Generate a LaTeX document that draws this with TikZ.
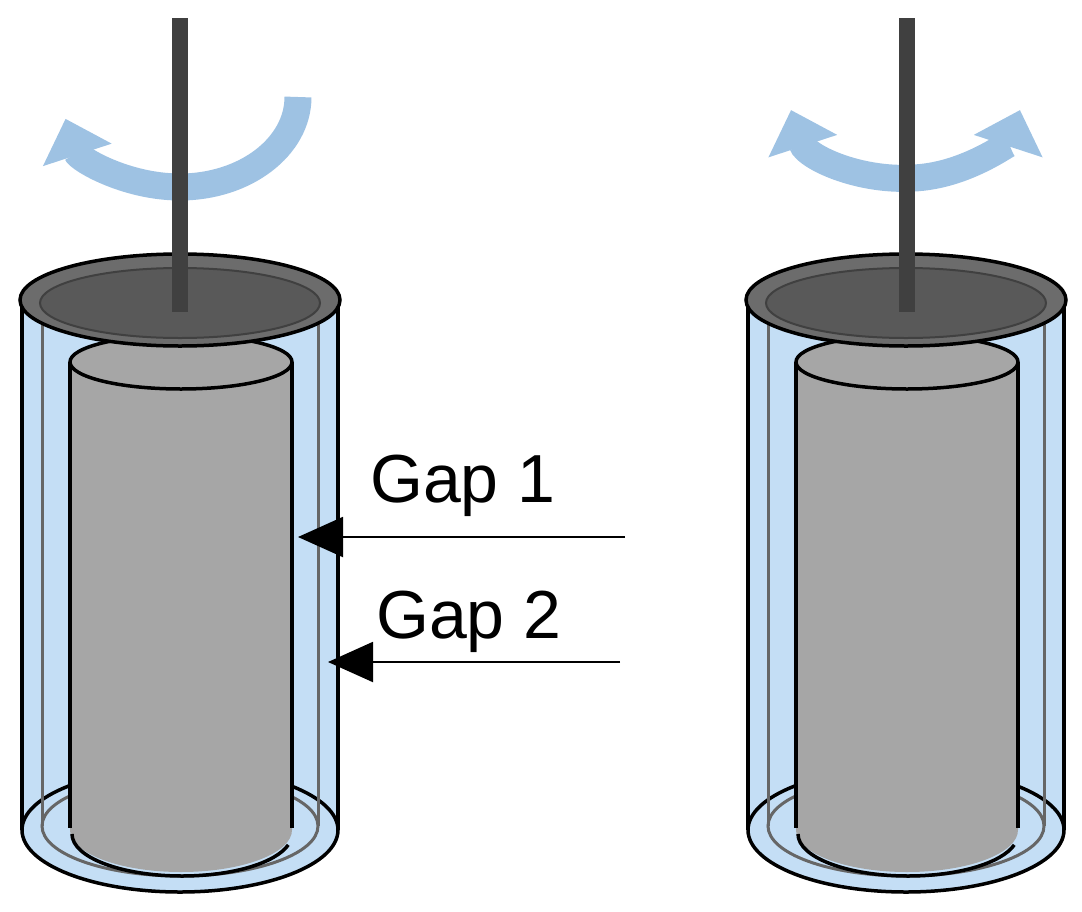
\documentclass[tikz,border=0pt]{standalone}
\usepackage{fontspec}
\setmainfont{Liberation Sans}
\usetikzlibrary{arrows.meta}
\definecolor{liq}{rgb}{0.77,0.87,0.96}
\definecolor{rot}{rgb}{0.62,0.76,0.89}
\tikzset{
  wall/.style={black,line width=3.5},
  inwall/.style={gray!80!black,line width=3},
  rotarrow/.style={rot,line width=27,-{Triangle[width=70,length=38]}},
  rotarrow2/.style={rot,line width=27,{Triangle[width=70,length=38]}-{Triangle[width=70,length=38]}},
  gaparrow/.style={black,line width=2,-{Triangle[width=40,length=45]}},
  lbl/.style={font=\fontsize{68}{72}\selectfont,inner sep=0}
}
\newcommand\drawcell{%
  \fill[liq] (22,300) -- (22,830) arc[start angle=180,end angle=0,x radius=158,y radius=62] -- (338,300) -- cycle;
  \draw[wall] (180,830) ellipse[x radius=158,y radius=62];
  \draw[inwall] (180,826) ellipse[x radius=138,y radius=50];
  \draw[inwall] (42,300) -- (42,826);
  \draw[inwall] (318,300) -- (318,826);
  % bob
  \fill[gray!70] (70,362) -- (70,830) arc[start angle=180,end angle=0,x radius=111,y radius=42] -- (292,362) -- cycle;
  \draw[wall] (70,362) -- (70,828);
  \draw[wall] (292,362) -- (292,828);
  \draw[wall] (72,834) arc[start angle=180,end angle=15,x radius=110,y radius=42];
  \draw[wall,fill=gray!70] (181,362) ellipse[x radius=111,y radius=27];
  % outer walls
  \draw[wall] (22,300) -- (22,830);
  \draw[wall] (338,300) -- (338,830);
  % lid
  \draw[wall,fill=gray!85!black] (180,300) ellipse[x radius=160,y radius=46];
  \draw[draw=gray!50!black,line width=2,fill=black!65] (180,303) ellipse[x radius=140,y radius=35];
}
\begin{document}
\begin{tikzpicture}[x=1pt,y=-1pt]
\useasboundingbox (0,0) rectangle (1082,911);
\begin{scope}
\drawcell
\end{scope}
\begin{scope}[xshift=726]
\drawcell
\end{scope}
% rotation arrows
\draw[rotarrow] (298,97) arc[start angle=0,end angle=166,x radius=118,y radius=90];
\draw[rotarrow2] (791,110) arc[start angle=166,end angle=14,x radius=118,y radius=90];
% shafts
\fill[black!75] (172,18) rectangle (188,312);
\fill[black!75] (899,18) rectangle (915,312);
% gap labels
\node[lbl,anchor=base west] (g1) at (370,502) {Gap 1};
\node[lbl,anchor=base west] (g2) at (376,638) {Gap 2};
\coordinate (g1s) at (625,537);
\coordinate (g1e) at (298,537);
\coordinate (g2s) at (620,662);
\coordinate (g2e) at (328,662);
\draw[gaparrow] (g1s) -- (g1e);
\draw[gaparrow] (g2s) -- (g2e);
\end{tikzpicture}
\end{document}
